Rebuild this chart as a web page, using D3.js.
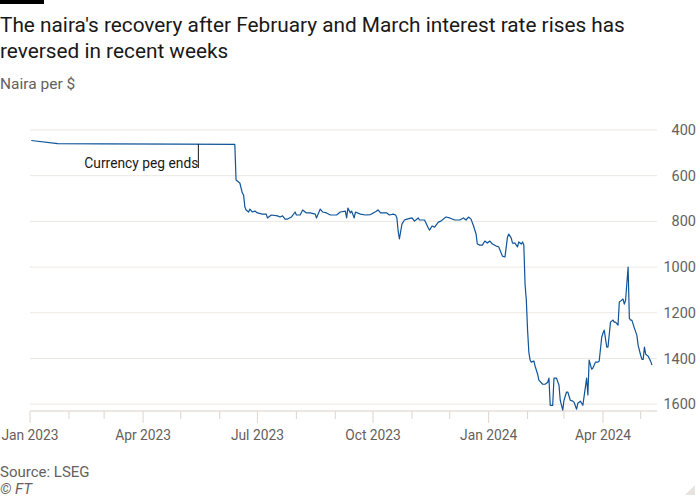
<!DOCTYPE html>
<html>
<head>
<meta charset="utf-8">
<script src="https://cdn.jsdelivr.net/npm/d3@7"></script>
<style>
  body { margin: 0; background: #fff; }
  svg { font-family: Roboto, "Noto Sans", sans-serif; }
</style>
</head>
<body>
<div id="chart"></div>
<script>
// naira per dollar
var dates = [
  "2023-01-02","2023-01-23","2023-03-01","2023-05-01","2023-06-13",
  "2023-06-14","2023-06-17","2023-06-19","2023-06-20","2023-06-21","2023-06-22","2023-06-24","2023-06-25",
  "2023-06-27","2023-06-29","2023-07-01","2023-07-05","2023-07-08","2023-07-09","2023-07-12","2023-07-17",
  "2023-07-19","2023-07-21","2023-07-23","2023-07-25","2023-07-28","2023-07-31","2023-08-01","2023-08-04",
  "2023-08-06","2023-08-09","2023-08-12","2023-08-16","2023-08-17","2023-08-20","2023-08-22","2023-08-25",
  "2023-08-28","2023-09-02","2023-09-05","2023-09-09","2023-09-10","2023-09-11","2023-09-13","2023-09-14",
  "2023-09-16","2023-09-17","2023-09-21","2023-09-25","2023-09-29","2023-10-03","2023-10-05","2023-10-07",
  "2023-10-09","2023-10-12","2023-10-14","2023-10-17","2023-10-19","2023-10-20","2023-10-21","2023-10-22",
  "2023-10-24","2023-10-26","2023-10-28","2023-11-01","2023-11-03","2023-11-06","2023-11-07","2023-11-11",
  "2023-11-14","2023-11-15","2023-11-17","2023-11-19","2023-11-22","2023-11-24","2023-11-28","2023-12-01",
  "2023-12-05","2023-12-09","2023-12-12","2023-12-14","2023-12-16","2023-12-18","2023-12-20","2023-12-22",
  "2023-12-23","2023-12-25","2023-12-27","2023-12-29","2023-12-31","2024-01-02","2024-01-04","2024-01-07",
  "2024-01-09","2024-01-12","2024-01-14","2024-01-16","2024-01-17","2024-01-19","2024-01-20","2024-01-22",
  "2024-01-24","2024-01-25","2024-01-27","2024-01-28","2024-01-29","2024-01-30","2024-01-31","2024-02-01",
  "2024-02-02","2024-02-03","2024-02-04","2024-02-06","2024-02-07","2024-02-09","2024-02-10","2024-02-13",
  "2024-02-15","2024-02-17","2024-02-18","2024-02-19","2024-02-21","2024-02-22","2024-02-24","2024-02-26",
  "2024-02-27","2024-02-29","2024-03-01","2024-03-03","2024-03-04","2024-03-06","2024-03-08","2024-03-09",
  "2024-03-11","2024-03-12","2024-03-14","2024-03-16","2024-03-17","2024-03-19","2024-03-20","2024-03-21",
  "2024-03-23","2024-03-24","2024-03-26","2024-03-28","2024-03-29","2024-03-31","2024-04-01","2024-04-02",
  "2024-04-04","2024-04-05","2024-04-07","2024-04-09","2024-04-10","2024-04-11","2024-04-13","2024-04-14",
  "2024-04-15","2024-04-17","2024-04-18","2024-04-19","2024-04-21","2024-04-22","2024-04-23","2024-04-24",
  "2024-04-26","2024-04-28","2024-04-29","2024-05-01","2024-05-02","2024-05-03","2024-05-04","2024-05-05",
  "2024-05-06","2024-05-07","2024-05-09","2024-05-10"
];
var rates = [
  446, 460, 461, 462, 463,
  619, 632, 676, 685, 737, 750, 759, 746,
  759, 755, 763, 768, 768, 785, 772, 776,
  781, 776, 790, 790, 781, 759, 772, 772,
  750, 763, 763, 768, 785, 746, 759, 763,
  772, 772, 759, 755, 785, 742, 763, 755,
  785, 759, 768, 772, 770, 758, 750, 763,
  763, 763, 772, 768, 772, 785, 843, 877,
  812, 794, 790, 785, 799, 785, 794, 794,
  829, 838, 820, 825, 803, 799, 781, 785,
  794, 794, 785, 794, 781, 790, 820, 855,
  899, 904, 904, 886, 895, 886, 899, 908,
  911, 952, 956, 869, 856, 873, 895, 895,
  912, 890, 899, 890, 903, 1075, 1145, 1276,
  1372, 1407, 1416, 1411, 1434, 1469, 1495, 1513,
  1513, 1504, 1486, 1605, 1605, 1486, 1486, 1517,
  1583, 1626, 1583, 1547, 1547, 1583, 1587, 1592,
  1622, 1596, 1587, 1605, 1565, 1486, 1560, 1407,
  1447, 1442, 1416, 1416, 1411, 1307, 1289, 1276,
  1350, 1350, 1241, 1232, 1241, 1241, 1254, 1153,
  1149, 1140, 1162, 1145, 1000, 1224, 1232, 1232,
  1267, 1299, 1343, 1386, 1404, 1404, 1350, 1381,
  1386, 1390, 1413, 1429
];
var yTicks = [400, 600, 800, 1000, 1200, 1400, 1600];
var majorTicks = ["2023-01-01","2023-04-01","2023-07-01","2023-10-01","2024-01-01","2024-04-01"];
var annotationDate = "2023-05-15";
var annotationLabel = "Currency peg ends";

var parse = d3.timeParse("%Y-%m-%d");
var series = dates.map(function(d, i) { return {date: parse(d), value: rates[i]}; });

var width = 700, height = 500;
var svg = d3.select("#chart").append("svg")
    .attr("width", width)
    .attr("height", height);

var x = d3.scaleTime()
    .domain([parse("2023-01-01"), parse("2024-05-14")])
    .range([30, 657]);

// inverted axis: weaker naira sits lower
var y = d3.scaleLinear()
    .domain([400, 1630])
    .range([130, 411]);

// header
svg.append("rect").attr("x", 0).attr("y", 0).attr("width", 44).attr("height", 4).attr("fill", "#000");
svg.append("text").attr("x", 0).attr("y", 32)
    .attr("font-size", 20.8).attr("fill", "#1a1817")
    .text("The naira's recovery after February and March interest rate rises has");
svg.append("text").attr("x", 0).attr("y", 58)
    .attr("font-size", 20.8).attr("fill", "#1a1817")
    .text("reversed in recent weeks");
svg.append("text").attr("x", 0).attr("y", 89)
    .attr("font-size", 15.5).attr("fill", "#66605c")
    .text("Naira per $");

// gridlines + right-side labels
svg.append("g").selectAll("line")
    .data(yTicks)
    .enter().append("line")
    .attr("x1", 30).attr("x2", 657)
    .attr("y1", function(d) { return y(d); })
    .attr("y2", function(d) { return y(d); })
    .attr("stroke", "#ece7e2")
    .attr("stroke-width", 1);

svg.append("g").selectAll("text")
    .data(yTicks)
    .enter().append("text")
    .attr("x", 696)
    .attr("y", function(d) { return y(d); })
    .attr("dy", "0.35em")
    .attr("text-anchor", "end")
    .attr("font-size", 14.5)
    .attr("fill", "#66605c")
    .text(function(d) { return d; });

// bottom axis: baseline, monthly minor ticks, quarterly major ticks
var axisY = y(1630);
svg.append("line")
    .attr("x1", 30).attr("x2", 657)
    .attr("y1", axisY).attr("y2", axisY)
    .attr("stroke", "#e6dfd9").attr("stroke-width", 1.5);

var months = d3.timeMonth.range(parse("2023-01-01"), parse("2024-05-14"));
var majors = majorTicks.map(function(d) { return +parse(d); });

svg.append("g").selectAll("line")
    .data(months)
    .enter().append("line")
    .attr("x1", function(d) { return x(d); })
    .attr("x2", function(d) { return x(d); })
    .attr("y1", axisY)
    .attr("y2", function(d) { return majors.indexOf(+d) >= 0 ? axisY + 12 : axisY + 8; })
    .attr("stroke", "#ddd6cf")
    .attr("stroke-width", 1);

svg.append("g").selectAll("text")
    .data(majorTicks)
    .enter().append("text")
    .attr("x", function(d) { return x(parse(d)); })
    .attr("y", 440)
    .attr("text-anchor", "middle")
    .attr("font-size", 13.8)
    .attr("fill", "#66605c")
    .text(function(d) { return d3.timeFormat("%b %Y")(parse(d)); });

// the series
var line = d3.line()
    .x(function(d) { return x(d.date); })
    .y(function(d) { return y(d.value); });

svg.append("path")
    .datum(series)
    .attr("fill", "none")
    .attr("stroke", "#0f5499")
    .attr("stroke-width", 1.2)
    .attr("stroke-linejoin", "round")
    .attr("d", line);

// annotation
var ax = x(parse(annotationDate));
svg.append("line")
    .attr("x1", ax).attr("x2", ax)
    .attr("y1", y(461)).attr("y2", 168)
    .attr("stroke", "#1a1817").attr("stroke-width", 1);
svg.append("text")
    .attr("x", ax).attr("y", 168)
    .attr("text-anchor", "end")
    .attr("font-size", 13.8)
    .attr("fill", "#1a1817")
    .text(annotationLabel);

// footer
svg.append("text").attr("x", 0).attr("y", 477)
    .attr("font-size", 15).attr("fill", "#66605c")
    .text("Source: LSEG");
svg.append("text").attr("x", 0).attr("y", 494)
    .attr("font-size", 15).attr("font-style", "italic").attr("fill", "#66605c")
    .text("\u00a9 FT");

// little corner mark bottom right
svg.append("path")
    .attr("d", "M695,485L695,495L685,495Z")
    .attr("fill", "#e8e3de");
</script>
</body>
</html>
